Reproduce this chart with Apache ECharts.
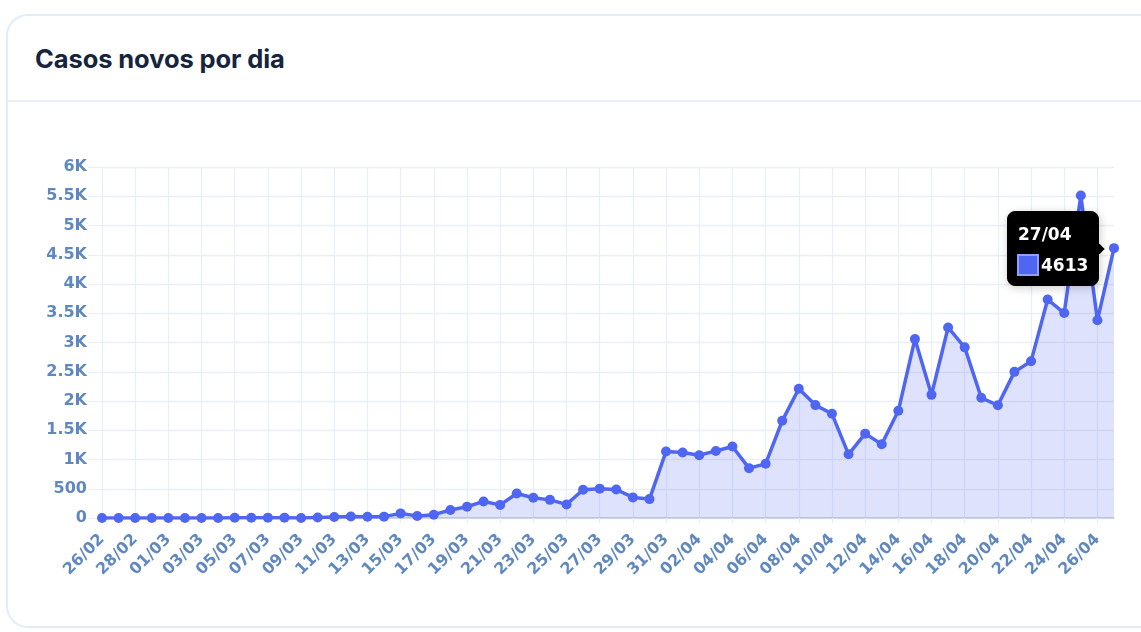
<!DOCTYPE html>
<html>
<head>
<meta charset="utf-8">
<script src="https://cdn.jsdelivr.net/npm/echarts@6/dist/echarts.min.js"></script>
<style>
html,body{margin:0;padding:0;background:#fff;width:1141px;height:632px;overflow:hidden;font-family:Inter,"Noto Sans",sans-serif;}
#card{position:absolute;left:6px;top:14px;width:1160px;height:614px;border:2px solid #e1ecf8;border-radius:22px;box-sizing:border-box;}
#head{position:absolute;left:0;top:0;right:0;height:84px;border-bottom:2px solid #e6eef9;}
#head h2{position:absolute;left:27px;top:27px;margin:0;font-size:25.5px;font-weight:700;color:#16253d;letter-spacing:-0.1px;}
#container{position:absolute;left:0;top:0;width:1141px;height:632px;}
</style>
</head>
<body>
<div id="card"><div id="head"><h2>Casos novos por dia</h2></div></div>
<div id="container"></div>
<script>
var dias=['26/02','27/02','28/02','29/02','01/03','02/03','03/03','04/03','05/03','06/03','07/03','08/03','09/03','10/03','11/03','12/03','13/03','14/03','15/03','16/03','17/03','18/03','19/03','20/03','21/03','22/03','23/03','24/03','25/03','26/03','27/03','28/03','29/03','30/03','31/03','01/04','02/04','03/04','04/04','05/04','06/04','07/04','08/04','09/04','10/04','11/04','12/04','13/04','14/04','15/04','16/04','17/04','18/04','19/04','20/04','21/04','22/04','23/04','24/04','25/04','26/04','27/04'];
var casos=[1,0,0,1,0,0,0,1,5,5,6,6,0,9,18,25,21,23,79,34,57,137,193,283,224,418,345,310,232,482,502,487,352,323,1138,1119,1074,1146,1222,852,926,1661,2210,1930,1781,1089,1442,1261,1832,3058,2105,3257,2917,2055,1927,2498,2678,3735,3503,5514,3379,4613];
var azul='#4f66f2';

var myChart=echarts.init(document.getElementById('container'));
var option={
	animation:false,
	grid:{left:102,right:27,top:167,bottom:114},
	tooltip:{
		trigger:'item',
		position:'left',
		transitionDuration:0,
		backgroundColor:'#000',
		borderColor:'#000',
		borderRadius:8,
		padding:[8,10,8,9],
		textStyle:{color:'#fff',fontSize:17,fontWeight:'bold',fontFamily:'DejaVu Sans, sans-serif'},
		formatter:function(p){
			return '<div style="line-height:22px;font-weight:bold;font-size:17px;margin:3px 0 8px 1px">'+p.name+'</div>'+
				'<div style="line-height:24px"><span style="display:inline-block;width:22px;height:22px;background:'+azul+';border:2px solid #8fa0ff;box-sizing:border-box;vertical-align:-5px;margin-right:2px"></span>'+p.value+'</div>';
		}
	},
	xAxis:{
		type:'category',
		data:dias,
		boundaryGap:false,
		axisLine:{lineStyle:{color:'#c9cfd8',width:1.5}},
		axisTick:{show:true,interval:1,length:5,lineStyle:{color:'#e6edf7'}},
		axisLabel:{interval:1,rotate:45,color:'#6088c0',fontSize:16,fontFamily:'DejaVu Sans, sans-serif',fontWeight:'bold',margin:19},
		splitLine:{show:true,interval:1,lineStyle:{color:'#e9eff8',width:1.3}}
	},
	yAxis:{
		type:'value',
		min:0,max:6000,interval:500,
		axisLine:{show:false},
		axisTick:{show:true,length:14,lineStyle:{color:'#e9eff8'}},
		axisLabel:{color:'#6088c0',fontSize:16,fontFamily:'DejaVu Sans, sans-serif',fontWeight:'bold',margin:15,
			formatter:function(v){return v>=1000?(v/1000)+'K':v;}},
		splitLine:{lineStyle:{color:'#e9eff8',width:1.3}}
	},
	series:[{
		name:'Casos',
		type:'line',
		data:casos,
		symbol:'circle',
		symbolSize:10,
		lineStyle:{color:azul,width:3.5},
		itemStyle:{color:azul},
		areaStyle:{color:'rgba(90,108,242,0.28)'},
		emphasis:{scale:1.3,itemStyle:{color:'#3047f0'}}
	}]
};
myChart.setOption(option,true);
myChart.dispatchAction({type:'showTip',seriesIndex:0,dataIndex:casos.length-1});
</script>
</body>
</html>
